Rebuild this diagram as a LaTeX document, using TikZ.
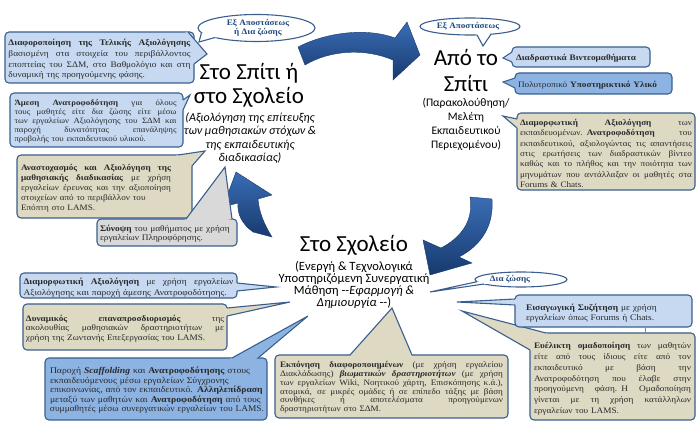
\documentclass[tikz,border=0pt]{standalone}
\usepackage{fontspec}
\usepackage{graphicx}
\setmainfont{Liberation Serif}[FakeStretch=1.1]
\newfontfamily\tf{Carlito}
\usetikzlibrary{calc}
\definecolor{bd}{HTML}{3A5F8E}
\definecolor{lb}{HTML}{C6D9F1}
\definecolor{mb}{HTML}{8DB3E2}
\definecolor{bg}{HTML}{DDD9C3}
\definecolor{gr}{HTML}{D9D9D9}
\definecolor{txt}{HTML}{2A2A2A}
\definecolor{eltx}{HTML}{1F497D}
\definecolor{ad}{HTML}{173A6E}
\definecolor{al}{HTML}{3A6DB5}
\newdimen\myht
\newcommand\fsz[2]{\fontsize{#1}{#2}\selectfont}
\newcommand\jl[1]{\par\noindent\setbox0=\hbox{#1}%
 \ifdim\wd0>\lw\relax\myht=\ht0\resizebox{\lw}{\myht}{\copy0}%
 \else\hbox to\lw{\spaceskip=\fontdimen2\font plus 1fil\relax#1}\fi}
\newcommand\el[1]{\par\noindent\setbox0=\hbox{#1}%
 \ifdim\wd0>\lw\relax\myht=\ht0\resizebox{\lw}{\myht}{\copy0}%
 \else\copy0\fi}
\newcommand\callout[6]{%
 \draw[cbox,fill=#1] #2 rectangle #3;
 \fill[#1] #4 -- #5 -- #6 -- ($#2!0.5!#3$) -- cycle;
 \draw[cside] #4 -- #5 -- #6;}
\tikzset{
 cbox/.style={draw=bd, line width=1.1pt, rounded corners=4pt},
 cside/.style={draw=bd, line width=1.1pt},
 ct/.style={inner sep=0pt, text width=#1, execute at begin node={\def\lw{#1}}, font=\fsz{8.5}{9.6}, text=txt},
 eline/.style={draw=bd, line width=1.1pt, fill=white},
 etxt/.style={font=\fsz{8.3}{9.6}\bfseries, text=eltx, align=center, inner sep=0pt},
 arr/.style={top color=al, bottom color=ad, draw=ad, line width=0.4pt},
 ttl/.style={font=\tf\fontsize{23}{24}\selectfont, align=center, inner sep=0pt},
 sub/.style={font=\tf\fontsize{11.5}{14}\selectfont, align=center, inner sep=0pt},
}
\begin{document}
\begin{tikzpicture}[x=1pt,y=-1pt]
\useasboundingbox (0,0) rectangle (697,422);
% ---------- arrows
\draw[arr] (298,47) .. controls (325,33) and (365,27) .. (395,38) -- (407,22) -- (420,55) -- (393,80) -- (393,60) .. controls (365,48) and (330,50) .. (305,65) -- cycle;
\draw[arr] (470,197) -- (492,199) .. controls (494,225) and (482,245) .. (459,257) -- (472,263) -- (430,275) -- (423,240) -- (441,248) .. controls (460,238) and (474,222) .. (470,197) -- cycle;
\draw[arr] (253,232) .. controls (242,224) and (237,214) .. (238,203) -- (223,207) -- (236,172) -- (272,195) -- (258,199) .. controls (259,212) and (264,224) .. (272,237) -- cycle;
% ---------- titles
\node[ttl] (t1) at (249,85) {Στο Σπίτι ή\\στο Σχολείο};
\node[sub, font=\tf\itshape\fontsize{12}{13.3}\selectfont] (s1) at (250,138) {(Αξιολόγηση της επίτευξης\\των μαθησιακών στόχων \&\\της εκπαιδευτικής\\διαδικασίας)};
\node[ttl, font=\tf\fontsize{23}{26}\selectfont] (t2) at (466,70) {Από το\\Σπίτι};
\node[sub] (s2) at (466,124) {(Παρακολούθηση/\\Μελέτη\\Εκπαιδευτικού\\Περιεχομένου)};
\node[ttl] (t3) at (354,245) {Στο Σχολείο};
\node[sub, font=\tf\fontsize{12.6}{12}\selectfont] (s3) at (354,285) {(Ενεργή \& Τεχνολογικά\\Υποστηριζόμενη Συνεργατική\\Μάθηση --\textit{Εφαρμογή \&}\\\textit{Δημιουργία} --)};
% ---------- ellipses
\draw[eline] (256.5,28) ellipse [x radius=58.5, y radius=13.5];
\fill[white] (201.5,32.6) -- (199,42) -- (215.1,37.5) -- (256.5,28) -- cycle;
\draw[cside] (201.5,32.6) -- (199,42) -- (215.1,37.5);
\node[etxt] (e1) at (258,28) {Εξ Αποστάσεως\\ή Δια ζώσης};
\draw[eline] (470,26.5) ellipse [x radius=50, y radius=8.5];
\fill[white] (477,34.9) -- (483,46) -- (491,34.2) -- (470,26.5) -- cycle;
\draw[cside] (477,34.9) -- (483,46) -- (491,34.2);
\node[etxt] (e2) at (468,26.5) {Εξ Αποστάσεως};
\draw[eline] (521,279.5) ellipse [x radius=46, y radius=7.5];
\fill[white] (477,281.7) -- (430,292) -- (484,284) -- (521,279.5) -- cycle;
\draw[cside] (477,281.7) -- (430,292) -- (484,284);
\node[etxt] (e3) at (510,279.5) {Δια ζώσης};
% ---------- callouts left
\callout{lb}{(5,32)}{(194,83)}{(188,32)}{(207,54)}{(194,64)}
\node[ct=182pt, font=\fsz{8.5}{10.6}] (c1) at (99.5,57.5) {\jl{\textbf{Διαφοροποίηση της Τελικής Αξιολόγησης}}\jl{βασισμένη στα στοιχεία του περιβάλλοντος}\jl{εποπτείας του ΣΔΜ, στο Βαθμολόγιο και στη}\el{δυναμική της προηγούμενης φάσης.}};
\callout{lb}{(10,93)}{(183,147)}{(183,100)}{(190,95)}{(183,110)}
\node[ct=162pt, font=\fsz{8}{8.9}] (c2) at (95.5,120) {\jl{\textbf{Άμεση Ανατροφοδότηση} για όλους}\jl{τους μαθητές είτε δια ζώσης είτε μέσω}\jl{των εργαλείων Αξιολόγησης του ΣΔΜ και}\jl{παροχή δυνατότητας επανάληψης}\el{προβολής του εκπαιδευτικού υλικού.}};
\callout{bg}{(17,155)}{(192,218)}{(178,155)}{(205,151)}{(192,166)}
\node[ct=150pt, font=\fsz{8.3}{10}] (c3) at (96,186.5) {\jl{\textbf{Αναστοχασμός και Αξιολόγηση της}}\jl{\textbf{μαθησιακής διαδικασίας} με χρήση}\jl{εργαλείων έρευνας και την αξιοποίηση}\el{στοιχείων από το περιβάλλον του}\el{Επόπτη στο LAMS.}};
\callout{gr}{(97,219)}{(237,246)}{(186,219)}{(225,167)}{(232,219)}
\node[ct=134pt, font=\fsz{8.5}{9.4}] (c4) at (167,232.5) {\el{\textbf{Σύνοψη} του μαθήματος με χρήση}\el{εργαλείων Πληροφόρησης.}};
% ---------- callouts right
\callout{lb}{(512,47)}{(650,67)}{(512,52)}{(503,58)}{(512,62)}
\node[ct=130pt, font=\fsz{8.4}{9}] (c7) at (581,57) {\el{\textbf{Διαδραστικά Βιντεομαθήματα}}};
\callout{mb}{(515,73)}{(672,94)}{(515,78)}{(503,82)}{(515,88)}
\node[ct=151pt, font=\fsz{8.4}{9}] (c8) at (593.5,83.5) {\el{Πολυτροπικό \textbf{Υποστηρικτικό Υλικό}}};
\callout{bg}{(517,113)}{(695,190)}{(517,119)}{(503,116)}{(517,128)}
\node[ct=172pt, font=\fsz{8.3}{10.3}] (c9) at (606,151.5) {\jl{\textbf{Διαμορφωτική Αξιολόγηση} των}\jl{εκπαιδευομένων. \textbf{Ανατροφοδότηση} του}\jl{εκπαιδευτικού, αξιολογώντας τις απαντήσεις}\jl{στις ερωτήσεις των διαδραστικών βίντεο}\jl{καθώς και το πλήθος και την ποιότητα των}\jl{μηνυμάτων που αντάλλαξαν οι μαθητές στα}\el{Forums \& Chats.}};
% ---------- callouts bottom
\callout{lb}{(20,273)}{(237,298)}{(237,283)}{(276,287)}{(237,291)}
\node[ct=210pt, font=\fsz{8.6}{11}] (c10) at (128.5,285.5) {\jl{\textbf{Διαμορφωτική Αξιολόγηση} με χρήση εργαλείων}\el{Αξιολόγησης και παροχή άμεσης Ανατροφοδότησης.}};
\callout{bg}{(23,304)}{(227,350)}{(227,308)}{(290,302)}{(227,316)}
\node[ct=198pt, font=\fsz{8.4}{9.3}] (c11) at (125,327) {\jl{\textbf{Δυναμικός επαναπροσδιορισμός} της}\jl{ακολουθίας μαθησιακών δραστηριοτήτων με}\el{χρήση της Ζωντανής Επεξεργασίας του LAMS.}};
\callout{mb}{(45,358)}{(267,420)}{(232,358)}{(308,316)}{(258,358)}
\node[ct=214pt, font=\fsz{8.8}{9.4}] (c12) at (157,389) {\el{Παροχή \textbf{\textit{Scaffolding}} και \textbf{Ανατροφοδότησης} στους}\el{εκπαιδευόμενους μέσω εργαλείων Σύγχρονης}\el{επικοινωνίας, από τον εκπαιδευτικό. \textbf{Αλληλεπίδραση}}\el{μεταξύ των μαθητών και \textbf{Ανατροφοδότηση} από τους}\el{συμμαθητές μέσω συνεργατικών εργαλείων του LAMS.}};
\callout{bg}{(275,355)}{(508,418)}{(350,355)}{(392,308)}{(412,355)}
\node[ct=223pt, font=\fsz{8.3}{8.9}] (c13) at (391.5,386) {\jl{\textbf{Εκπόνηση διαφοροποιημένων} (με χρήση εργαλείου}\jl{Διακλάδωσης) \textbf{\textit{βιωματικών δραστηριοτήτων}} (με χρήση}\jl{των εργαλείων Wiki, Νοητικού χάρτη, Επισκόπησης κ.ά.),}\jl{ατομικά, σε μικρές ομάδες ή σε επίπεδο τάξης με βάση}\jl{συνθήκες ή αποτελέσματα προηγούμενων}\el{δραστηριοτήτων στο ΣΔΜ.}};
\callout{bg}{(530,333)}{(695,420)}{(546,333)}{(462,311)}{(530,350)}
\node[ct=157pt, font=\fsz{8.4}{10.9}] (c16) at (612.5,376.5) {\jl{\textbf{Ευέλικτη ομαδοποίηση} των μαθητών}\jl{είτε από τους ίδιους είτε από τον}\jl{εκπαιδευτικό με βάση την}\jl{Ανατροφοδότηση που έλαβε στην}\jl{προηγούμενη φάση. Η Ομαδοποίηση}\jl{γίνεται με τη χρήση κατάλληλων}\el{εργαλείων του LAMS.}};
\callout{lb}{(515,295)}{(692,327)}{(515,299)}{(457,302)}{(515,305)}
\node[ct=162pt, font=\fsz{8.6}{10}] (c15) at (607,311) {\el{\textbf{Εισαγωγική Συζήτηση} με χρήση}\el{εργαλείων όπως Forums ή Chats.}};
\draw[gray, line width=0.6pt] (645,327.6) -- (645,333);
\end{tikzpicture}
\end{document}
